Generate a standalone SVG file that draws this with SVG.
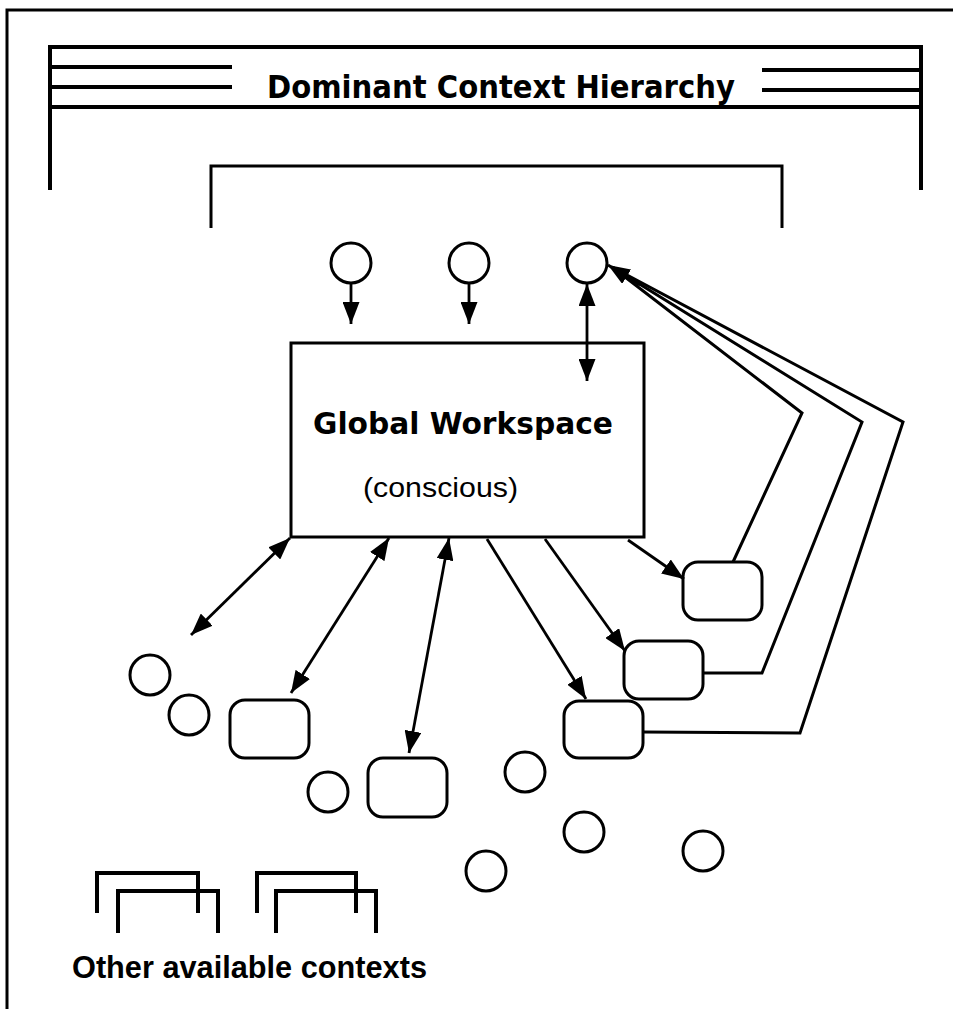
<svg xmlns="http://www.w3.org/2000/svg" width="953" height="1009" viewBox="0 0 953 1009">
<defs>
<marker id="ah" markerWidth="22" markerHeight="17" refX="22" refY="8.5" orient="auto-start-reverse" markerUnits="userSpaceOnUse">
<path d="M0,0 L22,8.5 L0,17 z" fill="#000"/>
</marker>
<style>
.ln{stroke:#000;stroke-width:3;fill:none}
.th{stroke:#000;stroke-width:4;fill:none}
.nd{stroke:#000;stroke-width:3;fill:#fff}
.cx{stroke:#000;stroke-width:2.8;fill:none;marker-end:url(#ah)}
.dx{stroke:#000;stroke-width:2.8;fill:none;marker-start:url(#ah);marker-end:url(#ah)}
.fb{stroke:#000;stroke-width:3;fill:none;stroke-linejoin:miter}
.hd{font-family:"DejaVu Sans Condensed","DejaVu Sans",sans-serif;font-weight:bold;fill:#000}
.hv{font-family:"Liberation Sans",Arial,sans-serif;fill:#000}
</style>
</defs>
<rect width="953" height="1009" fill="#fff"/>
<g id="frame">
<path class="ln" d="M7,1009 V10 H953"/>
</g>
<g id="dominant-context-hierarchy">
<path class="th" d="M50,190 V47 H921 V190"/>
<path class="th" d="M50,107 H921"/>
<path class="th" d="M50,67 H232 M50,87 H232"/>
<path class="th" d="M762,70 H921 M762,90 H921"/>
<text class="hd" x="267" y="98" font-size="32" textLength="468" lengthAdjust="spacingAndGlyphs">Dominant Context Hierarchy</text>
<path class="ln" d="M211,228 V166 H782 V228"/>
</g>
<g id="top-circles">
<circle class="nd" cx="351" cy="263" r="20"/>
<circle class="nd" cx="469" cy="263" r="20"/>
<circle class="nd" cx="587" cy="263" r="20"/>
</g>
<g id="global-workspace">
<rect class="nd" x="291" y="343" width="353" height="194"/>
<text class="hd" x="313" y="434" font-size="30" textLength="300" lengthAdjust="spacingAndGlyphs">Global  Workspace</text>
<text class="hv" x="363" y="497" font-size="27" textLength="155" lengthAdjust="spacingAndGlyphs">(conscious)</text>
</g>
<g id="processors">
<rect class="nd" x="683" y="562" width="79" height="58" rx="15"/>
<rect class="nd" x="624" y="641" width="79" height="58" rx="15"/>
<rect class="nd" x="564" y="701" width="79" height="57" rx="15"/>
<rect class="nd" x="230" y="700" width="79" height="58" rx="15"/>
<rect class="nd" x="368" y="758" width="79" height="59" rx="15"/>
<circle class="nd" cx="150" cy="675" r="20"/>
<circle class="nd" cx="189" cy="715" r="20"/>
<circle class="nd" cx="328" cy="792" r="20"/>
<circle class="nd" cx="525" cy="772" r="20"/>
<circle class="nd" cx="584" cy="832" r="20"/>
<circle class="nd" cx="486" cy="871" r="20"/>
<circle class="nd" cx="703" cy="851" r="20"/>
</g>
<g id="connectors">
<line class="cx" x1="351" y1="284" x2="351" y2="324"/>
<line class="cx" x1="469" y1="284" x2="469" y2="324"/>
<line class="dx" x1="587" y1="284" x2="587" y2="381"/>
<line class="dx" x1="290" y1="538" x2="191" y2="635"/>
<line class="dx" x1="389" y1="538" x2="291" y2="693"/>
<line class="dx" x1="449" y1="538" x2="409" y2="753"/>
<line class="cx" x1="487" y1="539" x2="586" y2="699"/>
<line class="cx" x1="545" y1="539" x2="625" y2="651"/>
<line class="cx" x1="628" y1="540" x2="684" y2="579"/>
<polyline class="fb" points="733,562 802,413 612,267"/>
<polyline class="fb" points="703,673 762,673 862,422 612,267"/>
<polyline class="fb" points="643,732 800,733 903,422 612,267"/>
<line class="cx" x1="640" y1="285" x2="608" y2="265"/>
</g>
<g id="other-contexts">
<path class="th" d="M97,913 V873 H198 V913"/>
<path class="th" d="M118,933 V891 H218 V933"/>
<path class="th" d="M257,913 V873 H356 V913"/>
<path class="th" d="M276,933 V891 H376 V933"/>
<text class="hv" x="72" y="978" font-size="31" font-weight="bold" textLength="355" lengthAdjust="spacingAndGlyphs">Other available contexts</text>
</g>
</svg>
